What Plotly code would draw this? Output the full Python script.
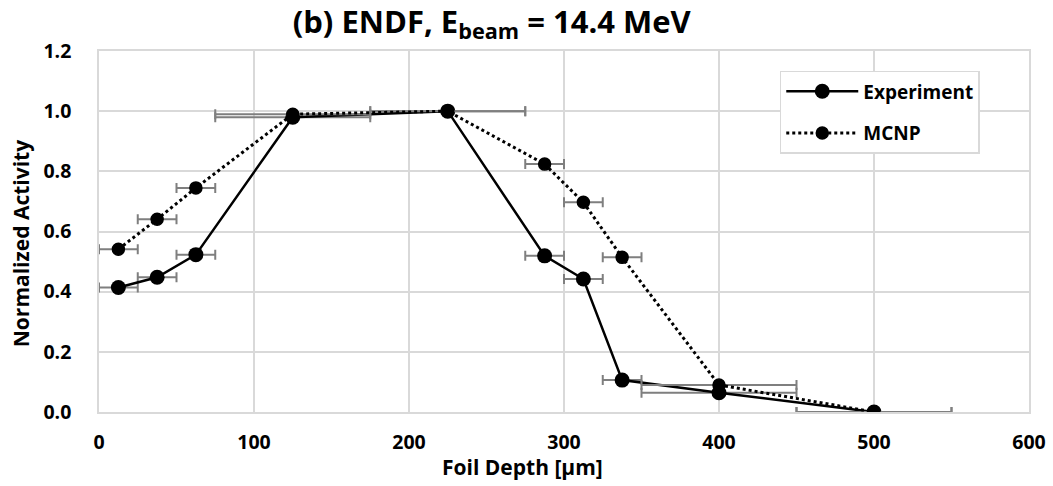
import plotly.graph_objects as go

depth = [12.5, 37.5, 62.5, 125, 225, 287.5, 312.5, 337.5, 400, 500]
depth_err = [12.5, 12.5, 12.5, 50, 50, 12.5, 12.5, 12.5, 50, 50]
experiment = [0.414, 0.448, 0.523, 0.980, 1.0, 0.519, 0.442, 0.106, 0.064, 0.0]
mcnp = [0.541, 0.641, 0.745, 0.990, 1.0, 0.824, 0.697, 0.514, 0.090, 0.0]

x_ticks = [0, 100, 200, 300, 400, 500, 600]
y_ticks = [0.0, 0.2, 0.4, 0.6, 0.8, 1.0, 1.2]

FONT = "Open Sans"
err = dict(type="data", array=depth_err, symmetric=True, color="#7f7f7f",
           thickness=2, width=5)

fig = go.Figure()
fig.add_trace(go.Scatter(
    x=depth, y=experiment, name="Experiment", mode="lines+markers",
    line=dict(color="black", width=2.5),
    marker=dict(symbol="circle", size=15, color="black"),
    error_x=err, legendgroup="a"))
fig.add_trace(go.Scatter(
    x=depth, y=mcnp, name="MCNP", mode="lines+markers",
    line=dict(color="black", width=3, dash="dot"),
    marker=dict(symbol="circle", size=12, color="black",
                line=dict(color="black", width=1.5)),
    error_x=err, legendgroup="b"))

fig.update_layout(
    width=1053, height=486,
    margin=dict(l=99, r=24, t=51, b=74, autoexpand=False),
    paper_bgcolor="white", plot_bgcolor="white",
    font=dict(family=FONT, size=20, color="black", weight=700),
    title=dict(text="(b) ENDF, E<sub>beam</sub> = 14.4 MeV",
               xref="container", x=0.467, xanchor="center",
               y=0.955, yanchor="middle",
               font=dict(family=FONT, size=31, color="black", weight=700)),
    xaxis=dict(range=[0, 600], tickvals=x_ticks, ticktext=[str(v) for v in x_ticks],
               showgrid=True, gridcolor="#d9d9d9", gridwidth=1.5,
               showline=True, linecolor="#d9d9d9", linewidth=1.5, mirror=True,
               zeroline=False, ticks="", ticklabelstandoff=12, automargin=False,
               tickfont=dict(family=FONT, size=19.5, weight=700)),
    yaxis=dict(range=[0, 1.2], tickvals=y_ticks, ticktext=[f"{v:.1f}" for v in y_ticks],
               showgrid=True, gridcolor="#d9d9d9", gridwidth=1.5,
               showline=True, linecolor="#d9d9d9", linewidth=1.5, mirror=True,
               zeroline=False, ticks="", ticklabelstandoff=22, automargin=False,
               tickfont=dict(family=FONT, size=19.5, weight=700)),
    legend=dict(x=0.732, y=0.945, xanchor="left", yanchor="top",
                bordercolor="#d9d9d9", borderwidth=1.5, bgcolor="white",
                tracegroupgap=14, itemwidth=72,
                font=dict(family=FONT, size=19, weight=700, color="black")),
    showlegend=True,
    annotations=[
        dict(text="Foil Depth [µm]", xref="paper", yref="paper",
             x=0.455, y=-0.153, xanchor="center", yanchor="middle",
             showarrow=False, font=dict(family=FONT, size=21, weight=700)),
        dict(text="Normalized Activity", xref="paper", yref="paper",
             x=-0.083, y=0.467, xanchor="center", yanchor="middle",
             textangle=-90, showarrow=False,
             font=dict(family=FONT, size=21, weight=700)),
    ],
)

fig.write_html("out.html")
